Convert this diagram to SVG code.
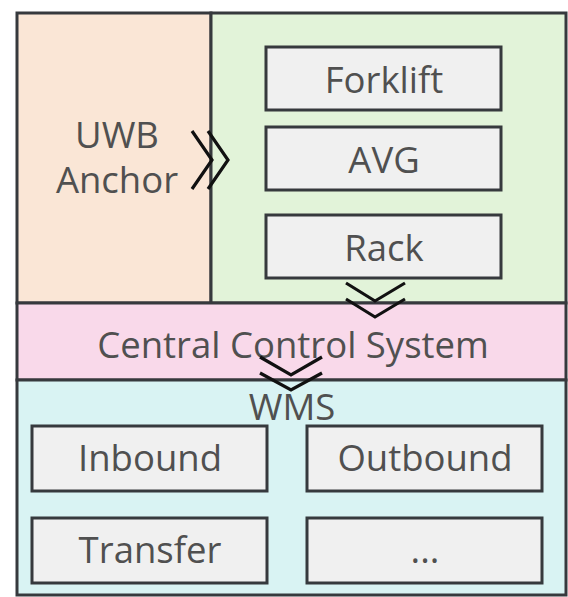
<svg xmlns="http://www.w3.org/2000/svg" width="568" height="597" viewBox="0 0 568 597">
<style>
.panel{stroke:#36393d;stroke-width:3}
.box{fill:#f0f0f0;stroke:#36393d;stroke-width:3}
.t{font-family:"Open Sans","Noto Sans",sans-serif;font-size:36.5px;fill:#505050;text-anchor:middle}
.chev{fill:none;stroke:#111;stroke-width:3.2}
</style>
<rect width="568" height="597" fill="#ffffff"/>
<g id="uwb">
<rect class="panel" x="17" y="13" width="194" height="290" fill="#fae6d6"/>
<text class="t" x="117" y="148">UWB</text>
<text class="t" x="117" y="193">Anchor</text>
</g>
<g id="devices">
<rect class="panel" x="211" y="13" width="355" height="290" fill="#e2f3d9"/>
</g>
<g id="forklift"><rect class="box" x="266" y="47" width="235" height="63"/><text class="t" x="384" y="93">Forklift</text></g>
<g id="avg"><rect class="box" x="266" y="127" width="235" height="63"/><text class="t" x="384" y="173">AVG</text></g>
<g id="rack"><rect class="box" x="266" y="215" width="235" height="63"/><text class="t" x="384" y="261">Rack</text></g>
<g id="ccs">
<rect class="panel" x="17" y="303" width="549" height="77" fill="#f9d9ea"/>
<text class="t" x="293" y="358">Central Control System</text>
</g>
<g id="wms">
<rect class="panel" x="17" y="380" width="549" height="215" fill="#d9f3f3"/>
<text class="t" x="292" y="420">WMS</text>
</g>
<g id="inbound"><rect class="box" x="32" y="426" width="235" height="65"/><text class="t" x="150" y="471">Inbound</text></g>
<g id="outbound"><rect class="box" x="307" y="426" width="235" height="65"/><text class="t" x="425" y="471">Outbound</text></g>
<g id="transfer"><rect class="box" x="32" y="518" width="235" height="65"/><text class="t" x="150" y="563">Transfer</text></g>
<g id="more"><rect class="box" x="307" y="518" width="235" height="65"/><text class="t" x="425" y="563">...</text></g>
<g id="connectors">
<polyline class="chev" points="192,131 212,160 192,189"/>
<polyline class="chev" points="208,131 228,160 208,189"/>
<polyline class="chev" points="346,283 375,301 405,283"/>
<polyline class="chev" points="346,299 375,317 405,299"/>
<polyline class="chev" points="260,357 291,375 322,357"/>
<polyline class="chev" points="260,373 291,390 322,373"/>
</g>
</svg>
